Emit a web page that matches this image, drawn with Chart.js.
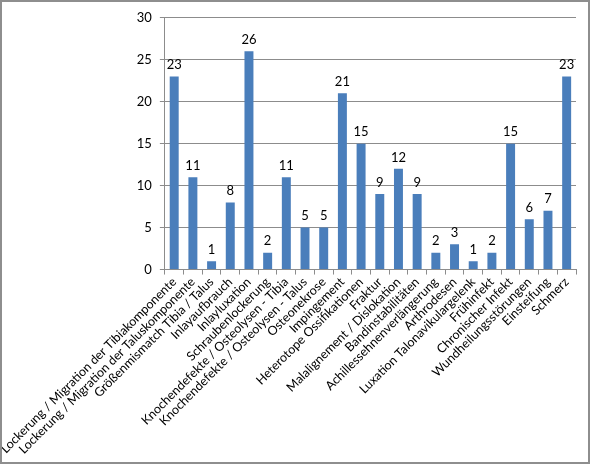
<!DOCTYPE html>
<html>
<head>
<meta charset="utf-8">
<script src="https://cdn.jsdelivr.net/npm/chart.js@4/dist/chart.umd.min.js"></script>
<style>
  html, body { margin: 0; padding: 0; background: #fff; }
  #frame {
    position: absolute; left: 0; top: 0;
    width: 590px; height: 464px;
    box-sizing: border-box;
    border: 2px solid #8e8e8e;
  }
  #wrap { position: absolute; left: 0; top: 0; width: 586px; height: 460px; }
</style>
</head>
<body>
<div id="frame"><div id="wrap"><canvas id="myChart"></canvas></div></div>
<script>
// categories and counts
var categories = [
  'Lockerung / Migration der Tibiakomponente',
  'Lockerung / Migration der Taluskomponente',
  'Größenmismatch Tibia / Talus',
  'Inlayaufbrauch',
  'Inlayluxation',
  'Schraubenlockerung',
  'Knochendefekte / Osteolysen - Tibia',
  'Knochendefekte / Osteolysen - Talus',
  'Osteonekrose',
  'Impingement',
  'Heterotope Ossifikationen',
  'Fraktur',
  'Malalignement / Dislokation',
  'Bandinstabilitäten',
  'Achillessehnenverlängerung',
  'Arthrodesen',
  'Luxation Talonavikulargelenk',
  'Frühinfekt',
  'Chronischer Infekt',
  'Wundheilungsstörungen',
  'Einsteifung',
  'Schmerz'
];
var counts = [23, 11, 1, 8, 26, 2, 11, 5, 5, 21, 15, 9, 12, 9, 2, 3, 1, 2, 15, 6, 7, 23];
var yTicks = [0, 5, 10, 15, 20, 25, 30];

// draws the value above each bar
var valueLabels = {
  id: 'valueLabels',
  afterDatasetsDraw: function(chart) {
    var ctx = chart.ctx;
    var meta = chart.getDatasetMeta(0);
    ctx.save();
    ctx.font = '13px Lato';
    ctx.fillStyle = '#000';
    ctx.textAlign = 'center';
    ctx.textBaseline = 'bottom';
    meta.data.forEach(function(bar, i) {
      ctx.fillText(counts[i], bar.x, bar.y - 5);
    });
    ctx.restore();
  }
};

document.addEventListener('DOMContentLoaded', function() {
  var ctx = document.getElementById('myChart').getContext('2d');
  new Chart(ctx, {
    type: 'bar',
    data: {
      labels: categories,
      datasets: [{
        data: counts,
        backgroundColor: '#4a7ebb',
        barPercentage: 0.48,
        categoryPercentage: 1
      }]
    },
    options: {
      responsive: true,
      maintainAspectRatio: false,
      animation: false,
      layout: { padding: { left: 9, right: 12, top: 5, bottom: 5 } },
      plugins: { legend: { display: false }, tooltip: { enabled: false } },
      scales: {
        x: {
          offset: true,
          grid: {
            offset: true,
            drawOnChartArea: false,
            drawTicks: true,
            tickLength: 5,
            color: '#8c8c8c'
          },
          border: { color: '#8c8c8c' },
          ticks: {
            autoSkip: false,
            maxRotation: 45,
            minRotation: 45,
            color: '#000',
            font: { family: 'Lato', size: 12.5 },
            padding: 0
          }
        },
        y: {
          min: 0,
          max: 30,
          afterBuildTicks: function(axis) {
            axis.ticks = yTicks.map(function(v) { return { value: v }; });
          },
          grid: { color: '#8c8c8c', tickLength: 5 },
          border: { color: '#8c8c8c' },
          ticks: {
            color: '#000',
            font: { family: 'Lato', size: 13 },
            padding: 8
          }
        }
      }
    },
    plugins: [valueLabels]
  });
});
</script>
</body>
</html>
